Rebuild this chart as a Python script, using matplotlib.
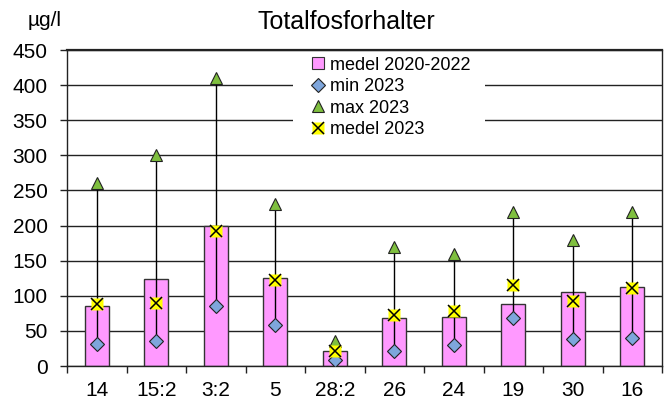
import matplotlib
matplotlib.use("Agg")
import matplotlib.pyplot as plt
import numpy as np
from matplotlib.lines import Line2D
from matplotlib.patches import Rectangle
from matplotlib.legend_handler import HandlerTuple

plt.rcParams['font.family'] = ['Liberation Sans', 'DejaVu Sans']

categories = ["14", "15:2", "3:2", "5", "28:2", "26", "24", "19", "30", "16"]
medel_2020_2022 = [86, 124, 200, 126, 21, 69, 70, 88, 106, 113]
min_2023 = [32, 36, 85, 58, 8, 22, 30, 69, 39, 40]
max_2023 = [260, 300, 410, 230, 36, 170, 160, 220, 180, 220]
medel_2023 = [88, 90, 192, 123, 21, 72, 78, 115, 93, 111]
yticks = [0, 50, 100, 150, 200, 250, 300, 350, 400, 450]

fig = plt.figure(figsize=(6.67, 4.05), dpi=100)
ax = fig.add_axes([67/667, 1-366/405, (662-67)/667, (366-50)/405])

x = np.arange(len(categories))
ax.bar(x, medel_2020_2022, width=0.41, color='#FF99FF', edgecolor='#333333', linewidth=1.0, zorder=2)
ax.vlines(x, min_2023, max_2023, color='black', linewidth=1.0, zorder=3)
ax.plot(x, min_2023, linestyle='none', marker='D', markersize=7, markerfacecolor='#7EA6DC',
        markeredgecolor='#222222', markeredgewidth=0.8, zorder=4)
ax.plot(x, max_2023, linestyle='none', marker='^', markersize=9, markerfacecolor='#7FBF3F',
        markeredgecolor='#222222', markeredgewidth=0.8, zorder=4)
ax.plot(x, medel_2023, linestyle='none', marker='s', markersize=9, markerfacecolor='#FFFF00',
        markeredgecolor='none', zorder=5)
ax.plot(x, medel_2023, linestyle='none', marker='x', markersize=8, markeredgecolor='black',
        markeredgewidth=1.1, zorder=6)

ax.set_xlim(-0.5, len(categories) - 0.5)
ax.set_ylim(0, 450)
ax.set_yticks(yticks)
ax.set_yticklabels([str(v) for v in yticks])
ax.set_xticks(x)
ax.set_xticklabels(categories)
ax.set_xticks(np.arange(len(categories) + 1) - 0.5, minor=True)
ax.tick_params(axis='x', which='major', length=0, pad=11, labelsize=15)
ax.tick_params(axis='x', which='minor', length=5, width=1, direction='out', color='#222222')
ax.tick_params(axis='y', which='major', length=5, width=1, direction='out', pad=9, labelsize=15,
               color='#222222')
ax.yaxis.grid(True, color='#222222', linewidth=1.0, zorder=0)
ax.set_axisbelow(True)
for s in ax.spines.values():
    s.set_color('#222222')
    s.set_linewidth(1.0)
ax.spines['top'].set_linewidth(1.6)

# white legend background covering the gridlines
ax.add_patch(Rectangle(((293-67)/595, (366-138)/316), 192/595, 84/316,
                       transform=ax.transAxes, facecolor='white', edgecolor='none', zorder=1))

fig.text(346/667, 1-22/405, "Totalfosforhalter", ha='center', va='center', fontsize=18)
fig.text(45/667, 1-20/405, "µg/l", ha='center', va='center', fontsize=15)

h1 = Line2D([], [], linestyle='none', marker='s', markersize=8, markerfacecolor='#FF99FF',
            markeredgecolor='#333333', markeredgewidth=0.8)
h2 = Line2D([], [], linestyle='none', marker='D', markersize=7, markerfacecolor='#7EA6DC',
            markeredgecolor='#222222', markeredgewidth=0.8)
h3 = Line2D([], [], linestyle='none', marker='^', markersize=9, markerfacecolor='#7FBF3F',
            markeredgecolor='#222222', markeredgewidth=0.8)
h4a = Line2D([], [], linestyle='none', marker='s', markersize=9, markerfacecolor='#FFFF00',
             markeredgecolor='none')
h4b = Line2D([], [], linestyle='none', marker='x', markersize=8, markeredgecolor='black',
             markeredgewidth=1.1)
leg = ax.legend([h1, h2, h3, (h4a, h4b)],
                ["medel 2020-2022", "min 2023", "max 2023", "medel 2023"],
                handler_map={tuple: HandlerTuple(ndivide=1, pad=0)},
                loc='upper left', bbox_to_anchor=((308-67)/595, (366-53)/316),
                frameon=False, fontsize=13, handlelength=0.7, handletextpad=0.3,
                labelspacing=0.25, borderpad=0.2, borderaxespad=0)
leg.set_zorder(10)

fig.savefig("out.png", dpi=100)
